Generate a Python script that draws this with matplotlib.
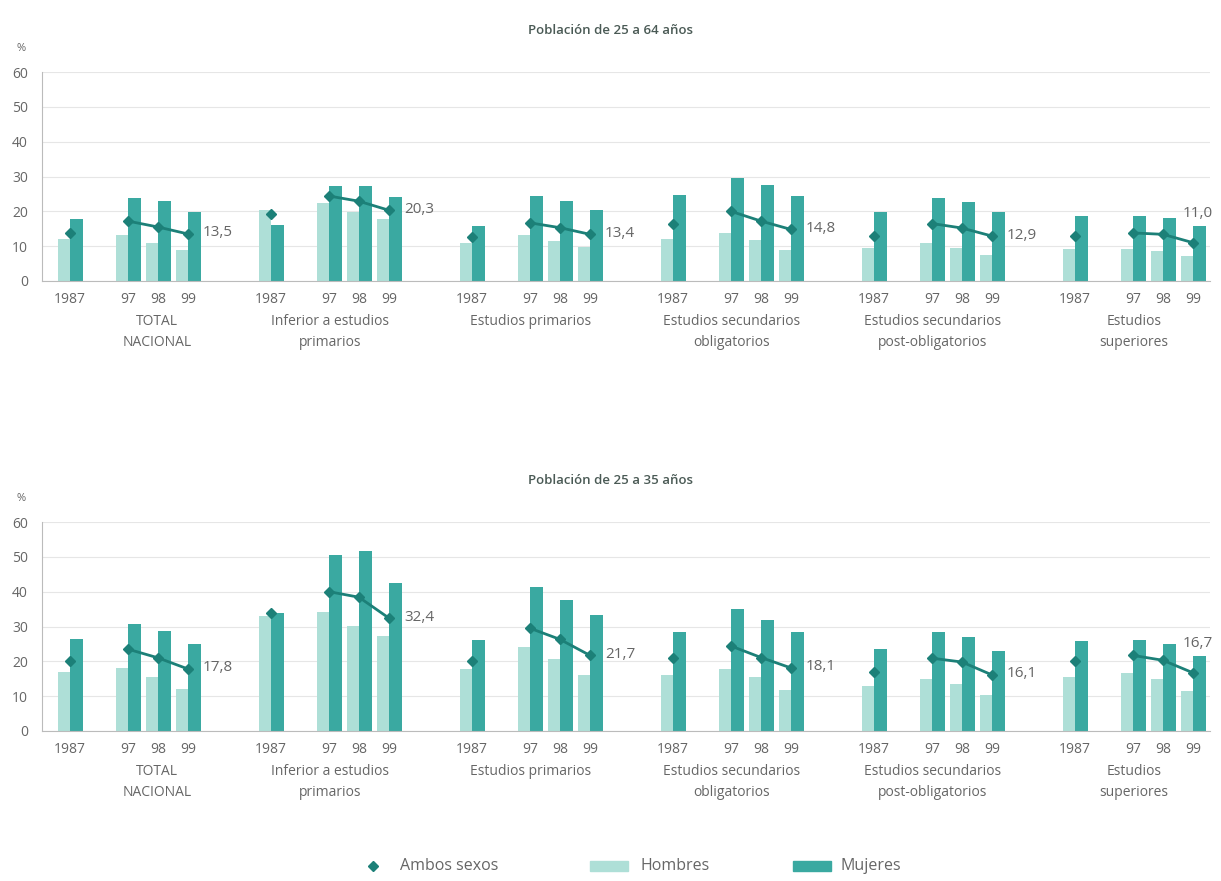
import matplotlib.pyplot as plt
from matplotlib.lines import Line2D
from matplotlib.patches import Rectangle

plt.rcParams['font.family'] = ['Open Sans', 'DejaVu Sans']

# categorías y años
categorias = ['TOTAL\nNACIONAL', 'Inferior a estudios\nprimarios', 'Estudios primarios',
              'Estudios secundarios\nobligatorios', 'Estudios secundarios\npost-obligatorios',
              'Estudios\nsuperiores']
anios = ['1987', '97', '98', '99']

# Población de 25 a 64 años  (1987, 97, 98, 99 por categoría)
h_64 = [[12.2, 13.1, 10.9, 9.0], [20.3, 22.5, 19.8, 17.9], [11.0, 13.1, 11.5, 9.8],
        [12.2, 13.9, 11.7, 9.0], [9.6, 11.0, 9.6, 7.4], [9.3, 9.3, 8.5, 7.1]]
m_64 = [[17.9, 23.9, 22.9, 19.7], [16.1, 27.4, 27.4, 24.1], [15.7, 24.4, 23.0, 20.5],
        [24.7, 29.7, 27.5, 24.3], [19.8, 23.9, 22.6, 19.7], [18.6, 18.6, 18.2, 15.7]]
a_64 = [[13.9, 17.2, 15.5, 13.5], [19.3, 24.4, 22.9, 20.3], [12.6, 16.7, 15.3, 13.4],
        [16.5, 20.0, 17.2, 14.8], [12.8, 16.5, 15.2, 12.9], [12.8, 13.8, 13.4, 11.0]]

# Población de 25 a 35 años
h_35 = [[16.8, 18.1, 15.5, 12.0], [33.1, 34.3, 30.1, 27.4], [17.8, 24.0, 20.8, 16.2],
        [16.0, 17.9, 15.4, 11.7], [13.0, 14.9, 13.4, 10.3], [15.5, 16.7, 14.9, 11.5]]
m_35 = [[26.3, 30.7, 28.8, 24.9], [34.0, 50.4, 51.7, 42.4], [26.1, 41.3, 37.6, 33.3],
        [28.5, 34.9, 31.9, 28.5], [23.4, 28.5, 27.1, 23.0], [25.9, 26.1, 25.1, 21.5]]
a_35 = [[20.2, 23.5, 21.0, 17.8], [33.8, 40.0, 38.4, 32.4], [20.0, 29.5, 26.3, 21.7],
        [20.9, 24.4, 21.1, 18.1], [16.8, 20.9, 19.8, 16.1], [20.2, 21.7, 20.3, 16.7]]

C_H = '#aedfd7'
C_M = '#3aa9a1'
C_A = '#1c8078'
GRIS = '#666666'

W, H = 1221, 881
fig = plt.figure(figsize=(W / 100, H / 100), dpi=100)

# posiciones en "píxeles" del eje x
paso_cat = 201
offs = [0, 58, 88, 118]
ancho = 12.5
lbl_off = [28, 0, 0, 0, 0, 0]


def panel(y0_px, titulo, hom, muj, amb):
    ax = fig.add_axes([42 / W, (H - y0_px) / H, (1210 - 42) / W, 209 / H])
    xt, xl = [], []
    for c in range(len(categorias)):
        base = 70 + paso_cat * c
        xs = [base + o for o in offs]
        ax.bar([x - ancho / 2 for x in xs], hom[c], width=ancho, color=C_H, zorder=2)
        ax.bar([x + ancho / 2 for x in xs], muj[c], width=ancho, color=C_M, zorder=2)
        ax.plot(xs[0], amb[c][0], marker='D', ms=5, color=C_A, zorder=4)
        ax.plot(xs[1:], amb[c][1:], marker='D', ms=5, lw=2, color=C_A, zorder=4)
        etiqueta = f'{amb[c][3]:.1f}'.replace('.', ',')
        if c == len(categorias) - 1:
            ax.text(xs[3] - 10, amb[c][3] + 8.5, etiqueta, fontsize=11, color=GRIS,
                    va='center', ha='left')
        else:
            ax.text(xs[3] + 15, amb[c][3] + 0.3, etiqueta, fontsize=11, color=GRIS,
                    va='center', ha='left')
        xt += xs
        xl += anios
        ax.text((xs[0] + xs[3]) / 2 + lbl_off[c], -9.5, categorias[c], fontsize=10,
                color=GRIS, ha='center', va='top', linespacing=1.55)
    ax.set_xlim(42, 1210)
    ax.set_ylim(0, 60)
    ax.set_yticks(range(0, 61, 10))
    ax.set_xticks(xt)
    ax.set_xticklabels(xl)
    ax.tick_params(length=0, labelsize=10, colors=GRIS, pad=8)
    ax.tick_params(axis='y', pad=10)
    ax.grid(axis='y', color='#e6e6e6', lw=0.8, zorder=0)
    for s in ['top', 'right']:
        ax.spines[s].set_visible(False)
    for s in ['left', 'bottom']:
        ax.spines[s].set_color('#bbbbbb')
        ax.spines[s].set_linewidth(0.8)
    ax.text(-0.018, 1.1, '%', transform=ax.transAxes, fontsize=8, color=GRIS, ha='center')
    fig.text(0.5, (H - (y0_px - 251)) / H, titulo, fontsize=9.5, fontweight='semibold',
             color='#4a5a55', ha='center', va='center')
    return ax


panel(281, 'Población de 25 a 64 años', h_64, m_64, a_64)
panel(731, 'Población de 25 a 35 años', h_35, m_35, a_35)

# leyenda
yl = (H - 866) / H
fig.add_artist(Line2D([373 / W], [yl], marker='D', ms=5, color=C_A, transform=fig.transFigure))
fig.text(400 / W, yl, 'Ambos sexos', fontsize=11.5, color=GRIS, va='center')
fig.add_artist(Rectangle((590 / W, yl - 5 / H), 38 / W, 10 / H, color=C_H, transform=fig.transFigure))
fig.text(640 / W, yl, 'Hombres', fontsize=11.5, color=GRIS, va='center')
fig.add_artist(Rectangle((793 / W, yl - 5 / H), 38 / W, 10 / H, color=C_M, transform=fig.transFigure))
fig.text(840 / W, yl, 'Mujeres', fontsize=11.5, color=GRIS, va='center')

fig.savefig('out.png', dpi=100, facecolor='white')
